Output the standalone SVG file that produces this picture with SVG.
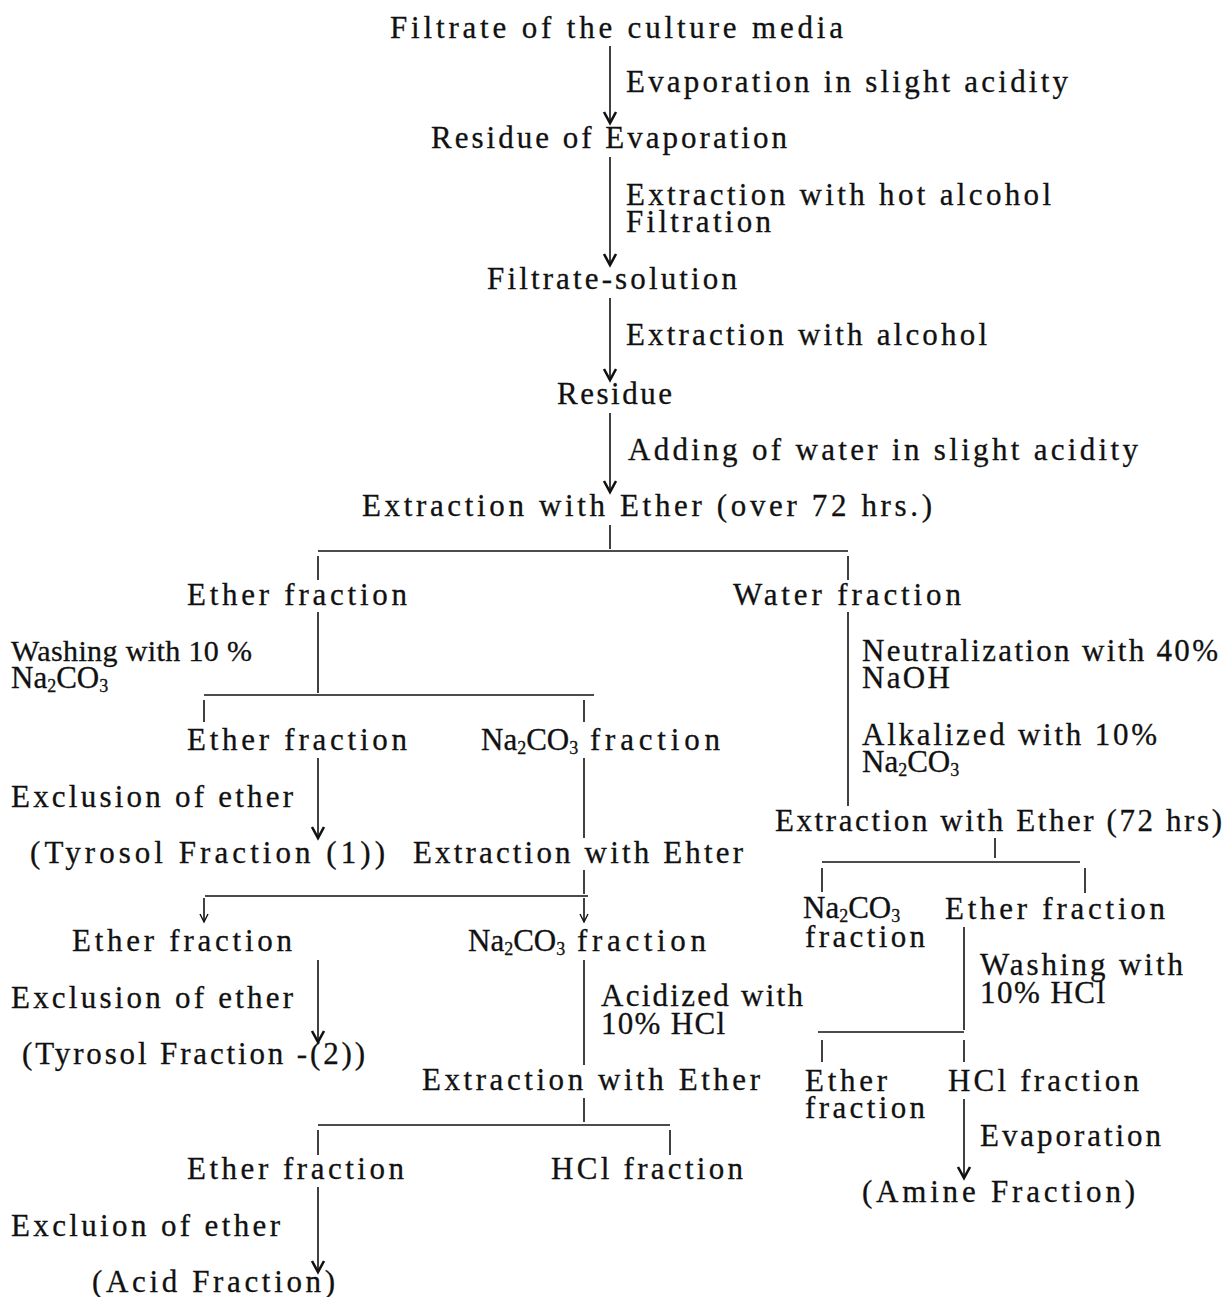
<svg xmlns="http://www.w3.org/2000/svg" width="1224" height="1297" viewBox="0 0 1224 1297">
<style>
text{font-family:"Liberation Serif","Times New Roman",serif;font-size:31px;fill:#111;stroke:#111;stroke-width:0.3}
.sub{font-size:18px}
.sm{font-size:30px}
.ln{stroke:#111;stroke-width:1.6;fill:none}
.ar{marker-end:url(#ah)}
.sa{marker-end:url(#sah)}
</style>
<defs>
<marker id="ah" markerUnits="userSpaceOnUse" markerWidth="16" markerHeight="16" viewBox="-13 -8 15 16" refX="0" refY="0" orient="auto" overflow="visible">
<path d="M-11,-6 L0,0 L-11,6" fill="none" stroke="#111" stroke-width="2.6"/>
</marker>
<marker id="sah" markerUnits="userSpaceOnUse" markerWidth="12" markerHeight="12" viewBox="-10 -6 11 12" refX="0" refY="0" orient="auto" overflow="visible">
<path d="M-8,-4 L0,0 L-8,4" fill="none" stroke="#111" stroke-width="1.4"/>
</marker>
</defs>

<g id="connectors">
<line class="ln ar" x1="610" y1="46" x2="610" y2="123"/>
<line class="ln ar" x1="610" y1="157" x2="610" y2="265"/>
<line class="ln ar" x1="610" y1="298" x2="610" y2="380"/>
<line class="ln ar" x1="610" y1="413" x2="610" y2="492"/>
<line class="ln" x1="610" y1="525" x2="610" y2="549"/>
<line class="ln" x1="318" y1="551" x2="848" y2="551"/>
<line class="ln" x1="318" y1="556" x2="318" y2="580"/>
<line class="ln" x1="848" y1="556" x2="848" y2="580"/>

<line class="ln" x1="318" y1="612" x2="318" y2="693"/>
<line class="ln" x1="204" y1="695" x2="594" y2="695"/>
<line class="ln" x1="204" y1="700" x2="204" y2="722"/>
<line class="ln" x1="584" y1="700" x2="584" y2="722"/>
<line class="ln ar" x1="318" y1="758" x2="318" y2="838"/>
<line class="ln" x1="584" y1="758" x2="584" y2="838"/>
<line class="ln" x1="584" y1="870" x2="584" y2="894"/>
<line class="ln" x1="205" y1="896" x2="588" y2="896"/>
<line class="ln sa" x1="204" y1="898" x2="204" y2="922"/>
<line class="ln sa" x1="584" y1="898" x2="584" y2="922"/>
<line class="ln ar" x1="318" y1="960" x2="318" y2="1042"/>
<line class="ln" x1="584" y1="960" x2="584" y2="1065"/>
<line class="ln" x1="584" y1="1098" x2="584" y2="1122"/>
<line class="ln" x1="318" y1="1125" x2="670" y2="1125"/>
<line class="ln" x1="318" y1="1130" x2="318" y2="1155"/>
<line class="ln" x1="670" y1="1130" x2="670" y2="1155"/>
<line class="ln ar" x1="318" y1="1187" x2="318" y2="1272"/>

<line class="ln" x1="848" y1="612" x2="848" y2="806"/>
<line class="ln" x1="995" y1="838" x2="995" y2="858"/>
<line class="ln" x1="822" y1="862" x2="1080" y2="862"/>
<line class="ln" x1="822" y1="868" x2="822" y2="892"/>
<line class="ln" x1="1085" y1="868" x2="1085" y2="893"/>
<line class="ln" x1="964" y1="927" x2="964" y2="1030"/>
<line class="ln" x1="818" y1="1032" x2="964" y2="1032"/>
<line class="ln" x1="822" y1="1040" x2="822" y2="1062"/>
<line class="ln" x1="964" y1="1040" x2="964" y2="1062"/>
<line class="ln ar" x1="964" y1="1099" x2="964" y2="1178"/>
</g>

<g id="n-filtrate"><text x="390" y="38" textLength="453" lengthAdjust="spacing">Filtrate of the culture media</text></g>
<g id="l-evap"><text x="626" y="92" textLength="442" lengthAdjust="spacing">Evaporation in slight acidity</text></g>
<g id="n-residue-evap"><text x="431" y="148" textLength="356" lengthAdjust="spacing">Residue of Evaporation</text></g>
<g id="l-hot"><text x="626" y="205" textLength="425" lengthAdjust="spacing">Extraction with hot alcohol</text>
<text x="626" y="232" textLength="145" lengthAdjust="spacing">Filtration</text></g>
<g id="n-filtrate-solution"><text x="487" y="289" textLength="250" lengthAdjust="spacing">Filtrate-solution</text></g>
<g id="l-alcohol"><text x="626" y="345" textLength="361" lengthAdjust="spacing">Extraction with alcohol</text></g>
<g id="n-residue"><text x="557" y="404" textLength="115" lengthAdjust="spacing">Residue</text></g>
<g id="l-water"><text x="628" y="460" textLength="510" lengthAdjust="spacing">Adding of water in slight acidity</text></g>
<g id="n-ext-ether"><text x="362" y="516" textLength="570" lengthAdjust="spacing">Extraction with Ether (over 72 hrs.)</text></g>

<g id="n-ether1"><text x="187" y="605" textLength="220" lengthAdjust="spacing">Ether fraction</text></g>
<g id="n-waterfr"><text x="733" y="605" textLength="228" lengthAdjust="spacing">Water fraction</text></g>
<g id="l-wash1"><text class="sm" x="11" y="661" textLength="241" lengthAdjust="spacing">Washing with 10 %</text>
<text x="11" y="688">Na<tspan class="sub" dy="4">2</tspan><tspan dy="-4">CO</tspan><tspan class="sub" dy="4">3</tspan></text></g>
<g id="l-neut"><text x="862" y="661" textLength="356" lengthAdjust="spacing">Neutralization with 40%</text>
<text x="862" y="688" textLength="88" lengthAdjust="spacing">NaOH</text></g>
<g id="n-ether2"><text x="187" y="750" textLength="220" lengthAdjust="spacing">Ether fraction</text></g>
<g id="n-na2co3-1"><text x="481" y="750">Na<tspan class="sub" dy="4">2</tspan><tspan dy="-4">CO</tspan><tspan class="sub" dy="4">3</tspan></text>
<text x="590" y="750" textLength="130" lengthAdjust="spacing">fraction</text></g>
<g id="l-alk"><text x="862" y="745" textLength="295" lengthAdjust="spacing">Alkalized with 10%</text>
<text x="862" y="772">Na<tspan class="sub" dy="4">2</tspan><tspan dy="-4">CO</tspan><tspan class="sub" dy="4">3</tspan></text></g>
<g id="l-excl1"><text x="11" y="807" textLength="282" lengthAdjust="spacing">Exclusion of ether</text></g>
<g id="n-ext-ether72"><text x="775" y="831" textLength="447" lengthAdjust="spacing">Extraction with Ether (72 hrs)</text></g>
<g id="n-tyrosol1"><text x="30" y="863" textLength="355" lengthAdjust="spacing">(Tyrosol Fraction (1))</text></g>
<g id="n-ext-ehter"><text x="413" y="863" textLength="330" lengthAdjust="spacing">Extraction with Ehter</text></g>

<g id="n-na2co3-r"><text x="803" y="918">Na<tspan class="sub" dy="4">2</tspan><tspan dy="-4">CO</tspan><tspan class="sub" dy="4">3</tspan></text>
<text x="805" y="947" textLength="120" lengthAdjust="spacing">fraction</text></g>
<g id="n-ether-r"><text x="945" y="919" textLength="220" lengthAdjust="spacing">Ether fraction</text></g>
<g id="n-ether3"><text x="72" y="951" textLength="220" lengthAdjust="spacing">Ether fraction</text></g>
<g id="n-na2co3-2"><text x="468" y="951">Na<tspan class="sub" dy="4">2</tspan><tspan dy="-4">CO</tspan><tspan class="sub" dy="4">3</tspan></text>
<text x="577" y="951" textLength="129" lengthAdjust="spacing">fraction</text></g>
<g id="l-wash2"><text x="980" y="975" textLength="203" lengthAdjust="spacing">Washing with</text>
<text x="980" y="1003" textLength="125" lengthAdjust="spacing">10% HCl</text></g>
<g id="l-excl2"><text x="11" y="1008" textLength="282" lengthAdjust="spacing">Exclusion of ether</text></g>
<g id="l-acid"><text x="601" y="1006" textLength="202" lengthAdjust="spacing">Acidized with</text>
<text x="601" y="1034" textLength="124" lengthAdjust="spacing">10% HCl</text></g>
<g id="n-tyrosol2"><text x="22" y="1064" textLength="343" lengthAdjust="spacing">(Tyrosol Fraction -(2))</text></g>
<g id="n-ext-ether2"><text x="422" y="1090" textLength="338" lengthAdjust="spacing">Extraction with Ether</text></g>
<g id="n-ether-r2"><text x="805" y="1091" textLength="82" lengthAdjust="spacing">Ether</text>
<text x="805" y="1118" textLength="120" lengthAdjust="spacing">fraction</text></g>
<g id="n-hcl-r"><text x="948" y="1091" textLength="191" lengthAdjust="spacing">HCl fraction</text></g>
<g id="l-evap2"><text x="980" y="1146" textLength="181" lengthAdjust="spacing">Evaporation</text></g>
<g id="n-ether4"><text x="187" y="1179" textLength="217" lengthAdjust="spacing">Ether fraction</text></g>
<g id="n-hcl"><text x="551" y="1179" textLength="192" lengthAdjust="spacing">HCl fraction</text></g>
<g id="n-amine"><text x="862" y="1202" textLength="273" lengthAdjust="spacing">(Amine Fraction)</text></g>
<g id="l-excl3"><text x="11" y="1236" textLength="269" lengthAdjust="spacing">Excluion of ether</text></g>
<g id="n-acid"><text x="92" y="1292" textLength="243" lengthAdjust="spacing">(Acid Fraction)</text></g>
</svg>
